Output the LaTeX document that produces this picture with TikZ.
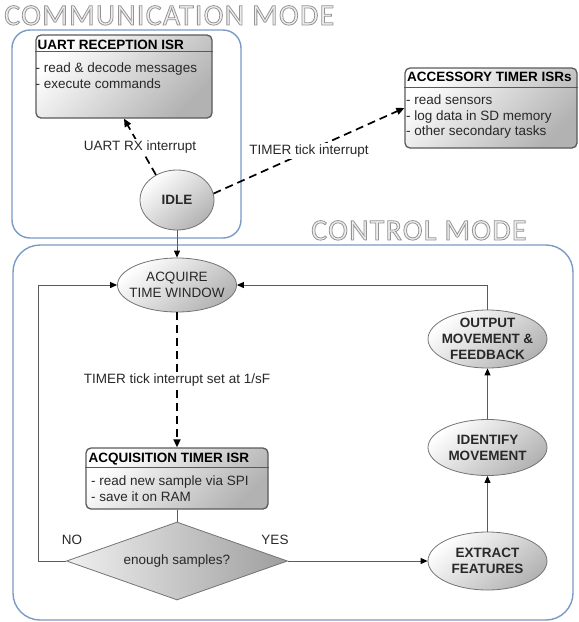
\documentclass[tikz,border=0pt]{standalone}
\usepackage{fontspec}
\setmainfont{Liberation Sans}
\newfontfamily\titlefont[LetterSpace=4]{Carlito}
\usetikzlibrary{arrows.meta,shapes.geometric}
\definecolor{modeblue}{RGB}{122,154,198}
\definecolor{edgegray}{RGB}{90,90,90}
\definecolor{txtgray}{RGB}{40,40,40}
\definecolor{titlefill}{RGB}{238,238,238}
\newcommand\outlined[1]{\special{pdf:literal direct 0.8 w 0.58 0.58 0.58 RG 2 Tr}#1\special{pdf:literal direct 0 Tr}}
\begin{document}
\begin{tikzpicture}[x=1pt,y=-1pt,
  every node/.style={font=\fontsize{13.5}{16}\selectfont, text=txtgray},
  modebox/.style={draw=modeblue, line width=1.4pt, inner sep=0pt},
  isrbox/.style={draw=edgegray, line width=1.3pt, rounded corners=5pt, top color=white, bottom color=black!30, shading angle=45, inner sep=0pt},
  statenode/.style={ellipse, draw=black!55, line width=0.8pt, top color=white, bottom color=black!30, shading angle=40, inner sep=-8pt, align=center, font=\bfseries\fontsize{13.5}{16}\selectfont},
  decision/.style={diamond, draw=black!55, line width=0.8pt, left color=black!6, right color=black!38, inner sep=0pt, aspect=2.83},
  divider/.style={draw=edgegray, line width=1pt},
  head/.style={font=\bfseries\fontsize{13.5}{16}\selectfont, text=black, inner sep=0pt, anchor=base west},
  body/.style={align=left, inner sep=0pt, anchor=north west},
  flow/.style={draw=edgegray, line width=0.9pt, -{Triangle[length=7pt,width=6pt,color=black]}},
  plain/.style={draw=edgegray, line width=0.9pt},
  irq/.style={draw=black, line width=1.7pt, dash pattern=on 8pt off 5pt, -{Triangle[length=8pt,width=7pt]}},
  lbl/.style={fill=white, inner sep=1.5pt},
  modetitle/.style={font=\titlefont\fontsize{30}{31}\selectfont, text=titlefill, inner sep=0pt, anchor=base west}
]
\useasboundingbox (0,0) rectangle (579,622);
% mode frames
\node[modebox, rounded corners=18pt, minimum width=229pt, minimum height=208pt] (comm) at (126.5,134) {};
\node[modebox, rounded corners=27pt, minimum width=560pt, minimum height=375pt] (ctrl) at (293,432.5) {};
\node[modetitle] (commt) at (4,25) {\outlined{COMMUNICATION MODE}};
\node[modetitle] (ctrlt) at (311,240) {\outlined{CONTROL MODE}};
% ISR boxes
\node[isrbox, minimum width=176pt, minimum height=83pt] (uart) at (124,76.5) {};
\draw[divider] ([yshift=-17pt]uart.north west) -- ([yshift=-17pt]uart.north east);
\node[head] (uarth) at (37.5,49.8) {UART RECEPTION ISR};
\node[body] (uartb) at (35.5,62.6) {- read \& decode messages\\- execute commands};
\node[isrbox, minimum width=172pt, minimum height=80pt] (acc) at (491,108) {};
\draw[divider] ([yshift=-20pt]acc.north west) -- ([yshift=-20pt]acc.north east);
\node[head] (acch) at (407,81.8) {ACCESSORY TIMER ISRs};
\node[body, font=\fontsize{13.5}{15.5}\selectfont] (accb) at (406,94.6) {- read sensors\\- log data in SD memory\\- other secondary tasks};
\node[isrbox, minimum width=182pt, minimum height=61pt] (acqisr) at (177,478.5) {};
\draw[divider] ([yshift=-20pt]acqisr.north west) -- ([yshift=-20pt]acqisr.north east);
\node[head] (acqh) at (88.5,462.8) {ACQUISITION TIMER ISR};
\node[body, font=\fontsize{13.5}{15.6}\selectfont] (acqb) at (91,475.6) {- read new sample via SPI\\- save it on RAM};
% states
\node[statenode, minimum width=74pt, minimum height=60pt] (idle) at (177,200) {IDLE};
\node[statenode, minimum width=119pt, minimum height=54pt, font=\fontsize{13.5}{16}\selectfont] (acq) at (177,285) {ACQUIRE\\TIME WINDOW};
\node[statenode, minimum width=119pt, minimum height=58pt] (out) at (487.5,339) {OUTPUT\\MOVEMENT \&\\FEEDBACK};
\node[statenode, minimum width=119pt, minimum height=56pt] (ident) at (487.5,447.5) {IDENTIFY\\MOVEMENT};
\node[statenode, minimum width=119pt, minimum height=58pt] (ext) at (487.5,561) {EXTRACT\\FEATURES};
\node[decision, minimum width=221pt, minimum height=78pt] (dia) at (177,561) {enough samples?};
\node (no) at (72,540) {NO};
\node (yes) at (275,540) {YES};
% connectors
\draw[irq] (idle.130) -- node[lbl] (rxl) {UART RX interrupt} (uart.south);
\draw[irq] (idle.10) -- node[lbl] (tickl) {TIMER tick interrupt} (acc.west);
\draw[irq] (acq.south) -- node[lbl] (sfl) {TIMER tick interrupt set at 1/sF} (acqisr.north);
\draw[flow] (idle.south) -- (acq.north);
\draw[plain] (acqisr.south) -- (dia.north);
\draw[flow] (dia.east) -- (ext.west);
\draw[flow] (ext.north) -- (ident.south);
\draw[flow] (ident.north) -- (out.south);
\draw[flow] (out.north) |- (acq.east);
\draw[flow] (dia.west) -- ++(-28,0) |- (acq.west);
\end{tikzpicture}
\end{document}
